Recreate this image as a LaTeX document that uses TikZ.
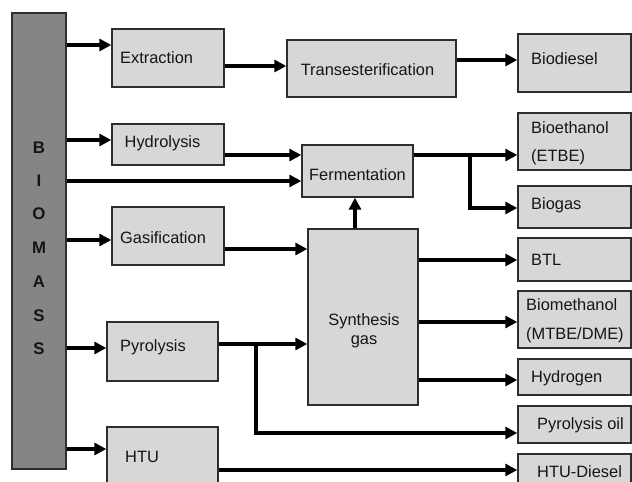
\documentclass[tikz,border=0pt]{standalone}
\usepackage{fontspec}
\setmainfont{Liberation Sans}
\usetikzlibrary{arrows.meta}
\definecolor{boxfill}{HTML}{D7D7D7}
\definecolor{barfill}{HTML}{858585}
\definecolor{edge}{HTML}{2E2E2E}
\definecolor{ink}{HTML}{151515}
\begin{document}
\begin{tikzpicture}[x=1pt,y=-1pt,
  box/.style={draw=edge,line width=1.4pt,fill=boxfill,inner sep=0pt,anchor=center},
  lbl/.style={text=ink,font=\fontsize{16.4}{20}\selectfont,inner sep=0pt},
  blet/.style={text=ink,font=\fontsize{16.8}{20}\selectfont\bfseries,inner sep=0pt},
  arr/.style={line width=3.8pt,draw=black,-{Triangle[length=12pt,width=12pt]}},
  ln/.style={line width=3.8pt,draw=black}]
\useasboundingbox (0,0) rectangle (632,482);
\clip (0,0) rectangle (632,482);
\fill[white] (0,0) rectangle (632,482);
% boxes
\node[box,fill=barfill,minimum width=54pt,minimum height=456pt] (bar) at (39,241) {};
\node[box,minimum width=112pt,minimum height=58pt] (ext) at (168,58) {};
\node[box,minimum width=169pt,minimum height=57pt] (trans) at (371.5,68.5) {};
\node[box,minimum width=112pt,minimum height=41pt] (hydrol) at (168,144.5) {};
\node[box,minimum width=111pt,minimum height=52pt] (ferm) at (357.5,171) {};
\node[box,minimum width=112pt,minimum height=58pt] (gasif) at (168,236) {};
\node[box,minimum width=110pt,minimum height=176pt] (syn) at (363,317) {};
\node[box,minimum width=111pt,minimum height=59pt] (pyro) at (162.5,351.5) {};
\node[box,minimum width=111pt,minimum height=73pt] (htu) at (162.5,463.5) {};
\node[box,minimum width=113pt,minimum height=58pt] (biod) at (574.5,63) {};
\node[box,minimum width=113pt,minimum height=57pt] (bioeth) at (574.5,141.5) {};
\node[box,minimum width=113pt,minimum height=42pt] (biogas) at (574.5,207) {};
\node[box,minimum width=113pt,minimum height=43pt] (btl) at (574.5,259.5) {};
\node[box,minimum width=113pt,minimum height=57pt] (biometh) at (574.5,319.5) {};
\node[box,minimum width=113pt,minimum height=36pt] (hydro) at (574.5,377) {};
\node[box,minimum width=113pt,minimum height=37pt] (pyoil) at (574.5,424.5) {};
\node[box,minimum width=113pt,minimum height=46pt] (htud) at (574.5,477) {};
% labels
\node[blet] (lb1) at (39,148) {B};
\node[blet] (lb2) at (39,181) {I};
\node[blet] (lb3) at (39,214) {O};
\node[blet] (lb4) at (39,248) {M};
\node[blet] (lb5) at (39,282) {A};
\node[blet] (lb6) at (39,316) {S};
\node[blet] (lb7) at (39,349) {S};
\node[lbl,anchor=west] (t1) at (120,58) {Extraction};
\node[lbl] (t2) at (367.5,70) {Transesterification};
\node[lbl,anchor=west] (t3) at (124.5,143) {Hydrolysis};
\node[lbl] (t4) at (357.5,175) {Fermentation};
\node[lbl,anchor=west] (t5) at (120,237.5) {Gasification};
\node[lbl] (t6) at (364,321) {Synthesis};
\node[lbl] (t7) at (364,342) {gas};
\node[lbl,anchor=west] (t8) at (120,347) {Pyrolysis};
\node[lbl,anchor=west] (t9) at (125,457) {HTU};
\node[lbl,anchor=west] (t10) at (531,59) {Biodiesel};
\node[lbl,anchor=west] (t11) at (531,128) {Bioethanol};
\node[lbl,anchor=west] (t12) at (531,157) {(ETBE)};
\node[lbl,anchor=west] (t13) at (531,205) {Biogas};
\node[lbl,anchor=west] (t14) at (531,260) {BTL};
\node[lbl,anchor=west] (t15) at (526,305) {Biomethanol};
\node[lbl,anchor=west] (t16) at (526,335) {(MTBE/DME)};
\node[lbl,anchor=west] (t17) at (531,378) {Hydrogen};
\node[lbl,anchor=west] (t18) at (537,425) {Pyrolysis oil};
\node[lbl,anchor=west] (t19) at (537,472) {HTU-Diesel};
% connectors
\draw[arr] (bar.east |- 0,45) -- (ext.west |- 0,45);
\draw[arr] (ext.east |- 0,66) -- (trans.west |- 0,66);
\draw[arr] (trans.east |- 0,60) -- (biod.west |- 0,60);
\draw[arr] (bar.east |- 0,140) -- (hydrol.west |- 0,140);
\draw[arr] (hydrol.east |- 0,155) -- (ferm.west |- 0,155);
\draw[arr] (bar.east |- 0,181) -- (ferm.west |- 0,181);
\draw[arr] (ferm.east |- 0,155) -- (bioeth.west |- 0,155);
\coordinate (fbr) at (470,155);
\draw[arr] (fbr) |- (biogas.west |- 0,208);
\draw[arr] (syn.north -| 355,0) -- (ferm.south -| 355,0);
\draw[arr] (bar.east |- 0,240) -- (gasif.west |- 0,240);
\draw[arr] (gasif.east |- 0,249) -- (syn.west |- 0,249);
\draw[arr] (syn.east |- 0,260) -- (btl.west |- 0,260);
\draw[arr] (syn.east |- 0,322) -- (biometh.west |- 0,322);
\draw[arr] (syn.east |- 0,380) -- (hydro.west |- 0,380);
\draw[arr] (bar.east |- 0,348) -- (pyro.west |- 0,348);
\draw[arr] (pyro.east |- 0,344) -- (syn.west |- 0,344);
\coordinate (pbr) at (256,344);
\draw[arr] (pbr) |- (pyoil.west |- 0,433);
\draw[arr] (bar.east |- 0,449) -- (htu.west |- 0,449);
\draw[arr] (htu.east |- 0,470) -- (htud.west |- 0,470);
\end{tikzpicture}
\end{document}
